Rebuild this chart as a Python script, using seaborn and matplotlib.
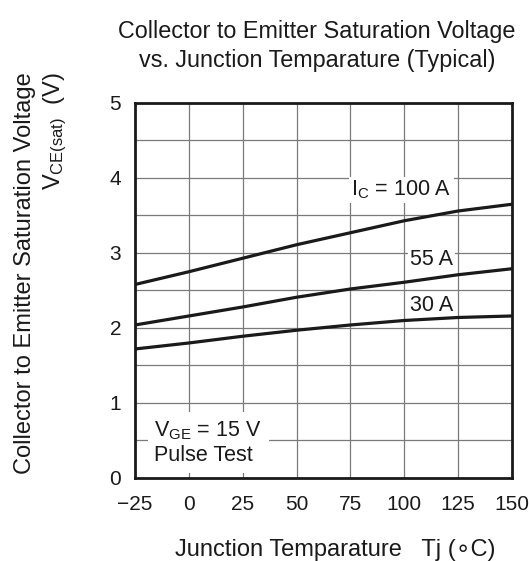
import numpy as np
import pandas as pd
import seaborn as sns
import matplotlib.pyplot as plt

# 데이터
tj = [-25, 0, 25, 50, 75, 100, 125, 150]
vce_100a = [2.58, 2.75, 2.93, 3.11, 3.27, 3.43, 3.56, 3.65]
vce_55a = [2.04, 2.16, 2.28, 2.41, 2.52, 2.61, 2.71, 2.79]
vce_30a = [1.72, 1.80, 1.89, 1.97, 2.04, 2.10, 2.14, 2.16]
x_ticks = [-25, 0, 25, 50, 75, 100, 125, 150]
x_tick_labels = ['\u221225', '0', '25', '50', '75', '100', '125', '150']
y_ticks = [0, 1, 2, 3, 4, 5]

df = pd.DataFrame({
    'Tj': tj * 3,
    'VCE': vce_100a + vce_55a + vce_30a,
    'Ic': ['100 A'] * len(tj) + ['55 A'] * len(tj) + ['30 A'] * len(tj),
})

sns.set_style('white')
plt.rcParams['font.family'] = ['Liberation Sans', 'DejaVu Sans']
plt.rcParams['mathtext.fontset'] = 'custom'
plt.rcParams['mathtext.rm'] = 'Liberation Sans'
plt.rcParams['mathtext.it'] = 'Liberation Sans'
ink = '#1a1a1a'

fig = plt.figure(figsize=(5.29, 5.61), dpi=100)
ax = fig.add_axes([0.2552, 0.1480, 0.7127, 0.6684])

sns.lineplot(data=df, x='Tj', y='VCE', hue='Ic', palette=[ink] * 3,
             linewidth=2.3, legend=False, ax=ax, zorder=4)

ax.set_xlim(-25, 150)
ax.set_ylim(0, 5)
ax.set_xticks(x_ticks)
ax.set_xticklabels(x_tick_labels)
ax.set_yticks(y_ticks)
ax.set_xticks(np.arange(-25, 151, 25), minor=True)
ax.set_yticks(np.arange(0, 5.01, 0.5), minor=True)
ax.grid(which='both', color='#7a7a7a', linewidth=0.9)
ax.set_axisbelow(True)
ax.tick_params(which='both', length=0, labelsize=15, colors=ink)
ax.tick_params(axis='x', pad=12)
ax.tick_params(axis='y', pad=10)
for s in ax.spines.values():
    s.set_linewidth(2.0)
    s.set_color(ink)

# 곡선 라벨 (흰 배경으로 격자를 가림)
box = dict(facecolor='white', edgecolor='none', pad=1.5)
ax.text(122, 3.84, r'I$_\mathrm{C}$ = 100 A', ha='right', va='center', fontsize=15.5,
        color=ink, bbox=box, zorder=3)
ax.text(122.5, 2.91, '55 A', ha='right', va='center', fontsize=15.5, color=ink, bbox=box, zorder=3)
ax.text(122.5, 2.30, '30 A', ha='right', va='center', fontsize=15.5, color=ink, bbox=box, zorder=3)
ax.text(-16, 0.47, 'V$_\\mathrm{GE}$ = 15 V\nPulse Test', ha='left', va='center', fontsize=15.5,
        color=ink, linespacing=1.2, zorder=3,
        bbox=dict(facecolor='white', edgecolor='none', pad=5))

fig.text(317 / 529, 1 - 46 / 561,
         'Collector to Emitter Saturation Voltage\nvs. Junction Temparature (Typical)',
         ha='center', va='center', fontsize=16.8, color=ink, linespacing=1.38)
ax.set_xlabel('Junction Temparature   Tj (\u2218C)', fontsize=17, color=ink)
ax.xaxis.set_label_coords(0.53, -0.163)
ax.set_ylabel('Collector to Emitter Saturation Voltage\nV$_\\mathrm{CE(sat)}$  (V)', fontsize=17,
              color=ink, multialignment='right', linespacing=1.3)
ax.yaxis.set_label_coords(-0.175, 0.547)

fig.savefig('out.png', dpi=100)
